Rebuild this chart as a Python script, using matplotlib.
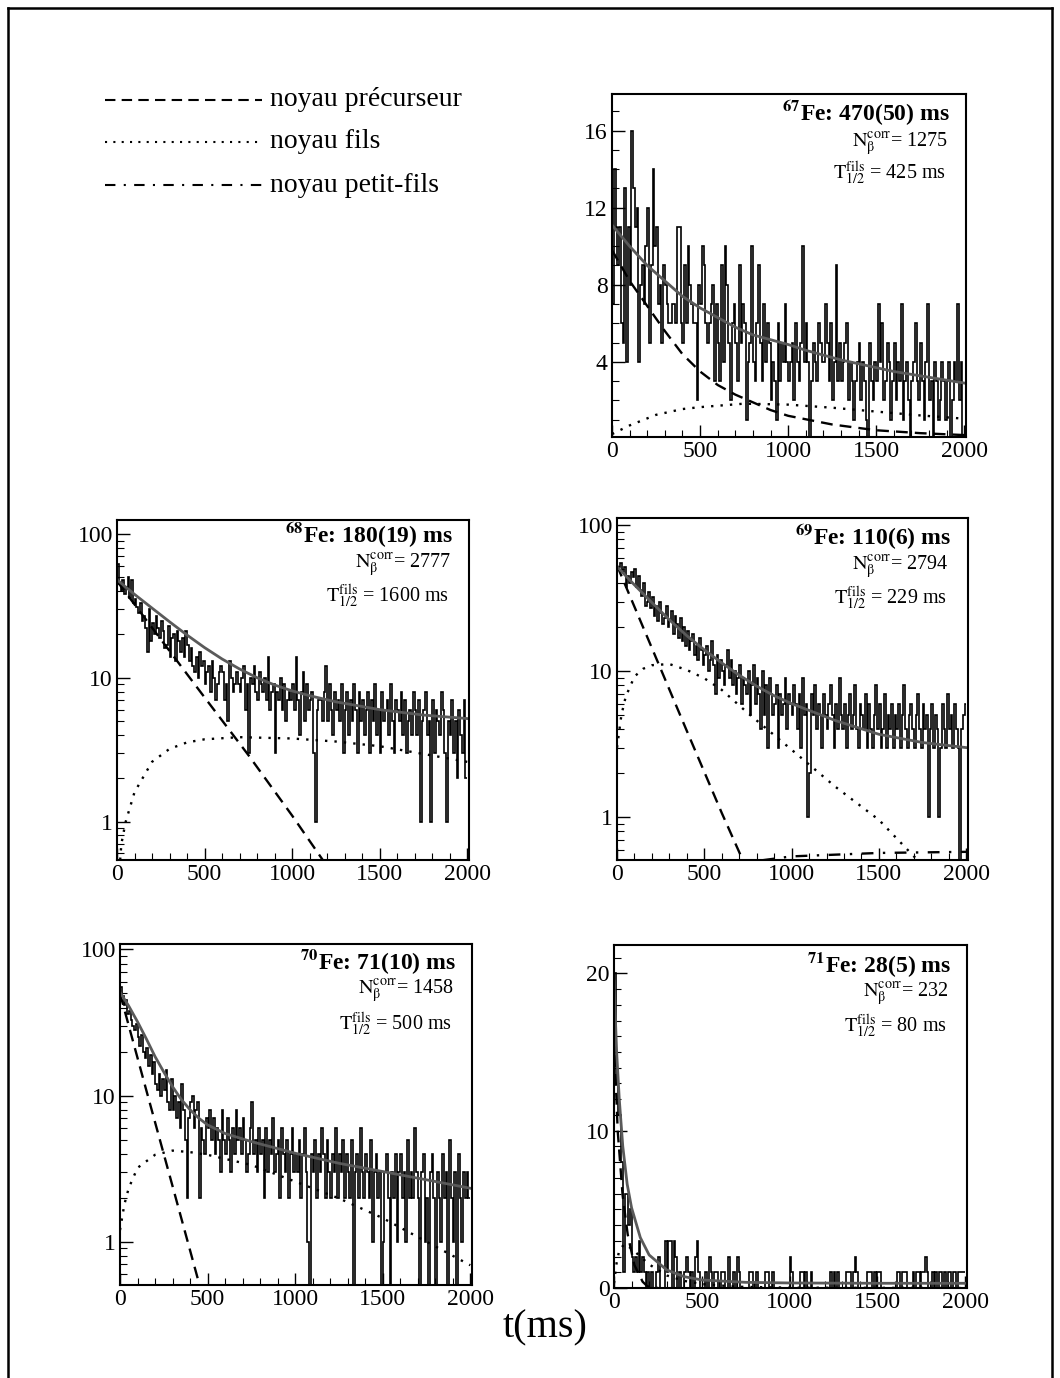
import numpy as np
import matplotlib
matplotlib.use("Agg")
import matplotlib.pyplot as plt
from matplotlib.ticker import FixedLocator, MultipleLocator, NullFormatter, LogLocator

plt.rcParams['font.family'] = ['Liberation Serif', 'DejaVu Serif']
plt.rcParams['mathtext.fontset'] = 'stix'

W, H = 1060, 1378

# ---------------- data ----------------
bin_edges_ms = np.arange(0, 2001, 10)

counts_67 = [
    7, 14, 11, 9, 11, 6, 5, 13, 4, 11,
    8, 16, 13, 11, 12, 4, 8, 9, 7, 10,
    12, 5, 9, 14, 10, 11, 7, 8, 5, 9,
    8, 7, 6, 6, 7, 7, 6, 11, 11, 6,
    5, 9, 6, 10, 8, 7, 6, 6, 2, 8,
    7, 10, 9, 6, 5, 6, 7, 8, 3, 7,
    5, 3, 9, 4, 10, 8, 5, 2, 6, 7,
    5, 3, 9, 5, 7, 6, 1, 4, 5, 10,
    4, 3, 6, 9, 5, 3, 7, 4, 6, 5,
    2, 4, 3, 1, 6, 3, 5, 4, 7, 4,
    3, 4, 5, 2, 6, 4, 3, 5, 10, 4,
    6, 4, 0, 3, 5, 4, 3, 6, 5, 4,
    4, 7, 5, 3, 6, 2, 4, 9, 3, 5,
    3, 4, 5, 6, 2, 4, 3, 1, 3, 4,
    5, 2, 4, 3, 1, 0, 5, 3, 2, 4,
    3, 7, 4, 6, 2, 3, 5, 4, 1, 3,
    5, 2, 4, 3, 7, 1, 3, 4, 2, 0,
    3, 4, 6, 3, 2, 5, 3, 1, 4, 7,
    2, 3, 0, 4, 3, 1, 2, 4, 3, 1,
    3, 4, 0, 2, 4, 3, 7, 2, 4, 0]

counts_68 = [
    62, 45, 40, 48, 38, 43, 50, 36, 48, 33,
    35, 31, 28, 33, 25, 27, 22, 15, 30, 18,
    24, 20, 27, 22, 19, 25, 21, 16, 17, 23,
    14, 19, 20, 13, 21, 18, 15, 19, 14, 21,
    17, 13, 16, 12, 11, 14, 10, 15, 12, 13,
    9, 11, 12, 8, 13, 10, 7, 9, 11, 12,
    11, 7, 9, 5, 13, 10, 8, 9, 11, 9,
    8, 10, 12, 6, 9, 3, 10, 9, 12, 8,
    7, 11, 9, 8, 10, 7, 14, 6, 8, 9,
    3, 8, 7, 10, 6, 9, 5, 7, 8, 7,
    9, 6, 14, 7, 4, 8, 11, 5, 9, 6,
    7, 8, 3, 1, 6, 7, 7, 5, 8, 12,
    5, 9, 6, 4, 8, 6, 7, 5, 9, 3,
    6, 8, 4, 7, 5, 9, 6, 3, 8, 5,
    7, 4, 6, 8, 3, 7, 5, 9, 4, 6,
    3, 8, 5, 6, 7, 4, 9, 5, 3, 7,
    6, 5, 8, 4, 7, 3, 5, 6, 4, 8,
    6, 4, 7, 1, 5, 6, 8, 4, 5, 1,
    7, 3, 6, 5, 4, 8, 6, 3, 1, 5,
    4, 7, 3, 5, 2, 6, 4, 3, 7, 2]

counts_69 = [
    50, 52, 55, 48, 52, 38, 45, 40, 48, 44,
    50, 38, 45, 36, 33, 40, 28, 30, 35, 27,
    32, 24, 28, 22, 30, 25, 21, 23, 28, 20,
    22, 26, 18, 24, 21, 17, 23, 16, 20, 15,
    19, 14, 16, 18, 13, 15, 12, 17, 14, 11,
    13, 15, 10, 12, 16, 11, 7, 13, 9, 12,
    10, 8, 11, 14, 9, 12, 8, 10, 7, 9,
    11, 6, 9, 8, 7, 10, 5, 8, 11, 6,
    9, 7, 4, 10, 5, 8, 3, 9, 7, 5,
    6, 8, 3, 7, 5, 6, 9, 4, 7, 6,
    5, 8, 6, 4, 7, 3, 9, 5, 6, 1,
    2, 7, 5, 8, 4, 6, 5, 3, 7, 5,
    4, 6, 8, 5, 3, 6, 4, 9, 5, 4,
    6, 3, 5, 7, 4, 5, 8, 4, 3, 6,
    5, 4, 7, 3, 6, 4, 3, 5, 8, 4,
    6, 3, 4, 7, 3, 5, 4, 6, 3, 5,
    4, 6, 3, 5, 8, 4, 3, 5, 6, 4,
    3, 5, 7, 4, 3, 6, 4, 5, 1, 4,
    6, 3, 5, 4, 1, 3, 6, 4, 3, 7,
    4, 5, 3, 6, 4, 3, 0, 4, 5, 6]

counts_70 = [
    55, 48, 42, 45, 36, 38, 33, 30, 28, 31,
    25, 22, 26, 20, 18, 21, 16, 19, 14, 17,
    12, 11, 14, 10, 13, 11, 15, 9, 8, 13,
    8, 10, 7, 9, 6, 12, 8, 5, 2, 7,
    9, 10, 6, 8, 9, 2, 6, 5, 4, 7,
    6, 8, 5, 7, 4, 6, 5, 3, 8, 5,
    4, 7, 5, 3, 6, 4, 8, 5, 6, 4,
    7, 5, 3, 4, 6, 9, 4, 5, 3, 6,
    4, 5, 2, 6, 3, 5, 4, 7, 3, 4,
    5, 2, 6, 4, 3, 5, 2, 4, 6, 3,
    4, 3, 5, 2, 4, 6, 3, 1, 0, 4,
    3, 5, 2, 4, 3, 6, 4, 2, 5, 3,
    2, 4, 3, 6, 2, 4, 3, 5, 2, 4,
    3, 2, 5, 0, 3, 4, 2, 6, 3, 2,
    4, 3, 2, 5, 1, 3, 4, 2, 3, 0,
    1, 3, 4, 2, 0, 3, 2, 4, 1, 3,
    4, 2, 3, 1, 5, 2, 3, 2, 6, 3,
    2, 0, 3, 4, 1, 2, 0, 3, 4, 2,
    0, 3, 2, 1, 4, 2, 3, 0, 5, 2,
    1, 3, 0, 4, 2, 1, 3, 2, 3, 2]

counts_71 = [
    20, 13, 11, 11, 8, 1, 6, 6, 4, 5,
    2, 1, 2, 1, 3, 1, 2, 1, 0, 1,
    0, 1, 0, 0, 1, 2, 0, 0, 0, 3,
    1, 3, 3, 0, 3, 2, 0, 1, 0, 0,
    1, 2, 1, 0, 1, 0, 2, 3, 1, 0,
    0, 0, 1, 0, 2, 1, 0, 1, 1, 0,
    0, 1, 1, 0, 0, 2, 0, 0, 1, 0,
    2, 1, 0, 0, 0, 0, 0, 1, 1, 0,
    0, 1, 0, 0, 0, 0, 1, 1, 0, 0,
    1, 0, 0, 0, 0, 0, 0, 0, 0, 0,
    2, 1, 0, 0, 0, 0, 1, 1, 0, 1,
    0, 0, 1, 0, 0, 0, 0, 0, 0, 0,
    0, 0, 0, 1, 0, 1, 0, 1, 0, 0,
    0, 0, 1, 1, 1, 0, 1, 2, 1, 0,
    0, 0, 0, 0, 1, 1, 1, 0, 1, 0,
    1, 1, 0, 0, 0, 0, 0, 0, 0, 0,
    0, 1, 1, 0, 1, 1, 1, 0, 0, 0,
    1, 0, 1, 1, 0, 1, 1, 2, 1, 0,
    0, 1, 0, 1, 0, 1, 1, 0, 1, 0,
    1, 1, 0, 1, 1, 0, 1, 1, 1, 1]

# fitted curves (t in ms, value in counts)
fit67_t = [0, 100, 200, 300, 400, 500, 600, 700, 800, 900, 1000, 1100, 1200, 1300, 1400, 1500, 1600, 1700, 1800, 1900, 2000]
fit67_v = [11.1, 10.0, 9.0, 8.2, 7.4, 6.8, 6.3, 5.8, 5.4, 5.15, 4.9, 4.6, 4.35, 4.1, 3.9, 3.7, 3.5, 3.35, 3.2, 3.05, 2.9]
pre67_t = [0, 100, 200, 300, 400, 500, 600, 700, 800, 900, 1000, 1250, 1500, 1750, 2000]
pre67_v = [9.8, 8.2, 6.9, 5.6, 4.4, 3.5, 2.8, 2.3, 1.9, 1.5, 1.2, 0.75, 0.45, 0.3, 0.2]
fil67_t = [0, 100, 250, 400, 500, 750, 1000, 1250, 1500, 1750, 2000]
fil67_v = [0.25, 0.7, 1.25, 1.55, 1.65, 1.83, 1.78, 1.62, 1.42, 1.22, 1.05]

fit68_t = [0, 100, 200, 300, 400, 500, 600, 700, 800, 900, 1000, 1100, 1250, 1500, 1750, 2000]
fit68_v = [48, 38, 30.5, 24.5, 19.8, 16.2, 13.5, 11.5, 10.0, 8.9, 8.1, 7.5, 6.8, 6.0, 5.5, 5.2]
pre68_t = [0, 250, 500, 750, 1000, 1175]
pre68_v = [47, 18.5, 7.3, 2.9, 1.1, 0.54]
fil68_t = [10, 25, 50, 100, 200, 300, 400, 500, 700, 1000, 1250, 1500, 1750, 2000]
fil68_v = [0.4, 0.7, 1.0, 1.6, 2.6, 3.2, 3.55, 3.73, 3.86, 3.78, 3.6, 3.34, 2.95, 2.6]

fit69_t = [0, 100, 200, 300, 400, 500, 600, 700, 800, 900, 1000, 1250, 1500, 1750, 2000]
fit69_v = [52, 39, 29.5, 22.5, 17.5, 14, 11.4, 9.4, 7.9, 6.8, 6.0, 4.6, 3.7, 3.25, 3.0]
pre69_t = [0, 200, 400, 600, 720]
pre69_v = [53, 14.4, 3.9, 1.07, 0.51]
fil69_t = [0, 25, 50, 100, 150, 200, 300, 400, 500, 600, 750, 1000, 1250, 1500, 1600, 1700, 1750]
fil69_v = [3.0, 5.0, 6.7, 9.2, 10.4, 11.0, 11.2, 10.2, 8.95, 7.45, 5.16, 2.9, 1.62, 0.96, 0.72, 0.54, 0.48]
gfil69_t = [0, 250, 500, 1000, 1500, 2000]
gfil69_v = [0.05, 0.3, 0.45, 0.54, 0.57, 0.58]

fit70_t = [0, 50, 100, 150, 200, 250, 300, 350, 400, 450, 500, 600, 750, 1000, 1250, 1500, 1750, 2000]
fit70_v = [51, 41, 32, 24.5, 18.5, 14.5, 11.5, 9.4, 8.0, 7.0, 6.3, 5.5, 4.84, 4.03, 3.44, 3.02, 2.65, 2.32]
pre70_t = [0, 150, 300, 454]
pre70_v = [50, 10.9, 2.4, 0.505]
fil70_t = [0, 25, 50, 100, 200, 300, 400, 500, 750, 1000, 1250, 1500, 1750, 2000]
fil70_v = [1.2, 1.8, 2.33, 3.2, 3.93, 4.2, 4.1, 3.93, 3.35, 2.58, 1.98, 1.45, 1.0, 0.69]

fit71_t = [0, 15, 30, 50, 75, 100, 150, 200, 300, 400, 500, 750, 1000, 1500, 2000]
fit71_v = [19.5, 15, 12, 9.0, 6.6, 5.1, 3.2, 2.1, 1.15, 0.72, 0.51, 0.36, 0.32, 0.3, 0.3]
pre71_t = [0, 21, 49, 78, 116, 163, 191, 250]
pre71_v = [16, 10, 5.9, 3.4, 1.46, 0.4, 0.1, 0.0]
fil71_t = [0, 15, 30, 60, 100, 150, 200, 300, 400, 500, 700, 1000, 2000]
fil71_v = [0.3, 1.6, 2.4, 2.8, 2.5, 2.0, 1.5, 0.8, 0.45, 0.25, 0.08, 0.02, 0.0]

titles = [r"$^{\mathbf{67}}$Fe: 470(50) ms", r"$^{\mathbf{68}}$Fe: 180(19) ms",
          r"$^{\mathbf{69}}$Fe: 110(6) ms", r"$^{\mathbf{70}}$Fe: 71(10) ms",
          r"$^{\mathbf{71}}$Fe: 28(5) ms"]
n_corr = ["1275", "2777", "2794", "1458", "232"]
t_fils = ["425", "1600", "229", "500", "80"]

legend_labels = ["noyau précurseur", "noyau fils", "noyau petit-fils"]

# ---------------- figure ----------------
fig = plt.figure(figsize=(W / 100, H / 100), dpi=100)


def fx(x):
    return x / W


def fy(y):
    return 1 - y / H


def add_axes(l, r, t, b):
    return fig.add_axes([fx(l), fy(b), (r - l) / W, (b - t) / H])


# outer frame
fig.add_artist(plt.Line2D([fx(8), fx(8)], [fy(8), fy(1378)], color='black', lw=1.8))
fig.add_artist(plt.Line2D([fx(8), fx(1052)], [fy(8), fy(8)], color='black', lw=1.8))
fig.add_artist(plt.Line2D([fx(1052), fx(1052)], [fy(8), fy(1378)], color='black', lw=1.8))

HIST_KW = dict(color='black', lw=1.2)
FIT_KW = dict(color='#5a5a5a', lw=2.0)
PRE_KW = dict(color='black', lw=1.7, linestyle=(0, (5, 3)))
FIL_KW = dict(color='black', lw=1.7, linestyle=(0, (1, 3)))
GF_KW = dict(color='black', lw=1.7, linestyle=(0, (5, 4, 1, 4)))


def style(ax, log, ymin, ymax, yticks):
    ax.set_xlim(0, 2010)
    ax.set_ylim(ymin, ymax)
    ax.xaxis.set_major_locator(FixedLocator([0, 500, 1000, 1500, 2000]))
    ax.xaxis.set_minor_locator(MultipleLocator(100))
    if log:
        ax.set_yscale('log')
        ax.yaxis.set_major_locator(FixedLocator(yticks))
        ax.yaxis.set_minor_locator(LogLocator(base=10, subs=np.arange(2, 10)))
        ax.yaxis.set_minor_formatter(NullFormatter())
        ax.set_yticklabels([str(v) for v in yticks])
    else:
        ax.yaxis.set_major_locator(FixedLocator(yticks))
        ax.yaxis.set_minor_locator(MultipleLocator(1))
    ax.set_xticklabels(["0", "500", "1000", "1500", "2000"])
    ax.tick_params(which='both', direction='in', top=False, right=False, labelsize=17, pad=3)
    ax.tick_params(which='major', length=9, width=1)
    ax.tick_params(which='minor', length=5, width=0.8)
    for s in ax.spines.values():
        s.set_linewidth(1.5)


def draw_hist(ax, counts, log):
    c = np.asarray(counts, dtype=float)
    if log:
        c = np.where(c > 0, c, 1e-3)
    ax.stairs(c, bin_edges_ms, baseline=None, **HIST_KW)


def texts(ax_r, i, ys):
    fig.text(fx(ax_r), fy(ys[0]), titles[i], ha='right', va='center', fontsize=17, fontweight='bold')
    fig.text(fx(ax_r - 2), fy(ys[1]), r"$\mathrm{N}_{\mathrm{β}}^{\mathrm{corr}}$= " + n_corr[i],
             ha='right', va='center', fontsize=14.5)
    fig.text(fx(ax_r - 4), fy(ys[2]), r"$\mathrm{T}_{1/2}^{\mathrm{fils}}$ = " + t_fils[i] + " ms",
             ha='right', va='center', fontsize=14.5)


# 67Fe
ax = add_axes(612, 966, 94, 437)
draw_hist(ax, counts_67, False)
ax.plot(pre67_t, pre67_v, **PRE_KW)
ax.plot(fil67_t, fil67_v, **FIL_KW)
ax.plot(fit67_t, fit67_v, **FIT_KW)
style(ax, False, 0.1, 17.9, [4, 8, 12, 16])
texts(950, 0, [113, 143, 173])

# 68Fe
ax = add_axes(117, 469, 520, 860)
draw_hist(ax, counts_68, True)
ax.plot(pre68_t, pre68_v, **PRE_KW)
ax.plot(fil68_t, fil68_v, **FIL_KW)
ax.plot(fit68_t, fit68_v, **FIT_KW)
style(ax, True, 0.54, 125, [1, 10, 100])
texts(453, 1, [535, 564, 596])

# 69Fe
ax = add_axes(617, 968, 518, 860)
draw_hist(ax, counts_69, True)
ax.plot(pre69_t, pre69_v, **PRE_KW)
ax.plot(fil69_t, fil69_v, **FIL_KW)
ax.plot(gfil69_t, gfil69_v, **GF_KW)
ax.plot(fit69_t, fit69_v, **FIT_KW)
style(ax, True, 0.51, 112, [1, 10, 100])
texts(951, 2, [537, 566, 598])

# 70Fe
ax = add_axes(120, 472, 944, 1285)
draw_hist(ax, counts_70, True)
ax.plot(pre70_t, pre70_v, **PRE_KW)
ax.plot(fil70_t, fil70_v, **FIL_KW)
ax.plot(fit70_t, fit70_v, **FIT_KW)
style(ax, True, 0.505, 109, [1, 10, 100])
texts(456, 3, [962, 991, 1024])

# 71Fe
ax = add_axes(614, 967, 945, 1288)
draw_hist(ax, counts_71, False)
ax.plot(pre71_t, pre71_v, **PRE_KW)
ax.plot(fil71_t, fil71_v, **FIL_KW)
ax.plot(fit71_t, fit71_v, **FIT_KW)
style(ax, False, 0, 21.8, [0, 10, 20])
texts(951, 4, [965, 994, 1026])

# legend (drawn in figure coordinates)
leg_y = [100, 142, 185]
leg_kw = [PRE_KW, FIL_KW, GF_KW]
for yy, kw, lab in zip(leg_y, leg_kw, legend_labels):
    k = dict(kw)
    k['lw'] = 1.5
    fig.add_artist(plt.Line2D([fx(105), fx(262)], [fy(yy), fy(yy)], **k))
    fig.text(fx(270), fy(yy), lab, ha='left', va='center', fontsize=20)

fig.text(fx(545), fy(1328), "t(ms)", ha='center', va='center', fontsize=29)

fig.savefig("out.png", dpi=100)
